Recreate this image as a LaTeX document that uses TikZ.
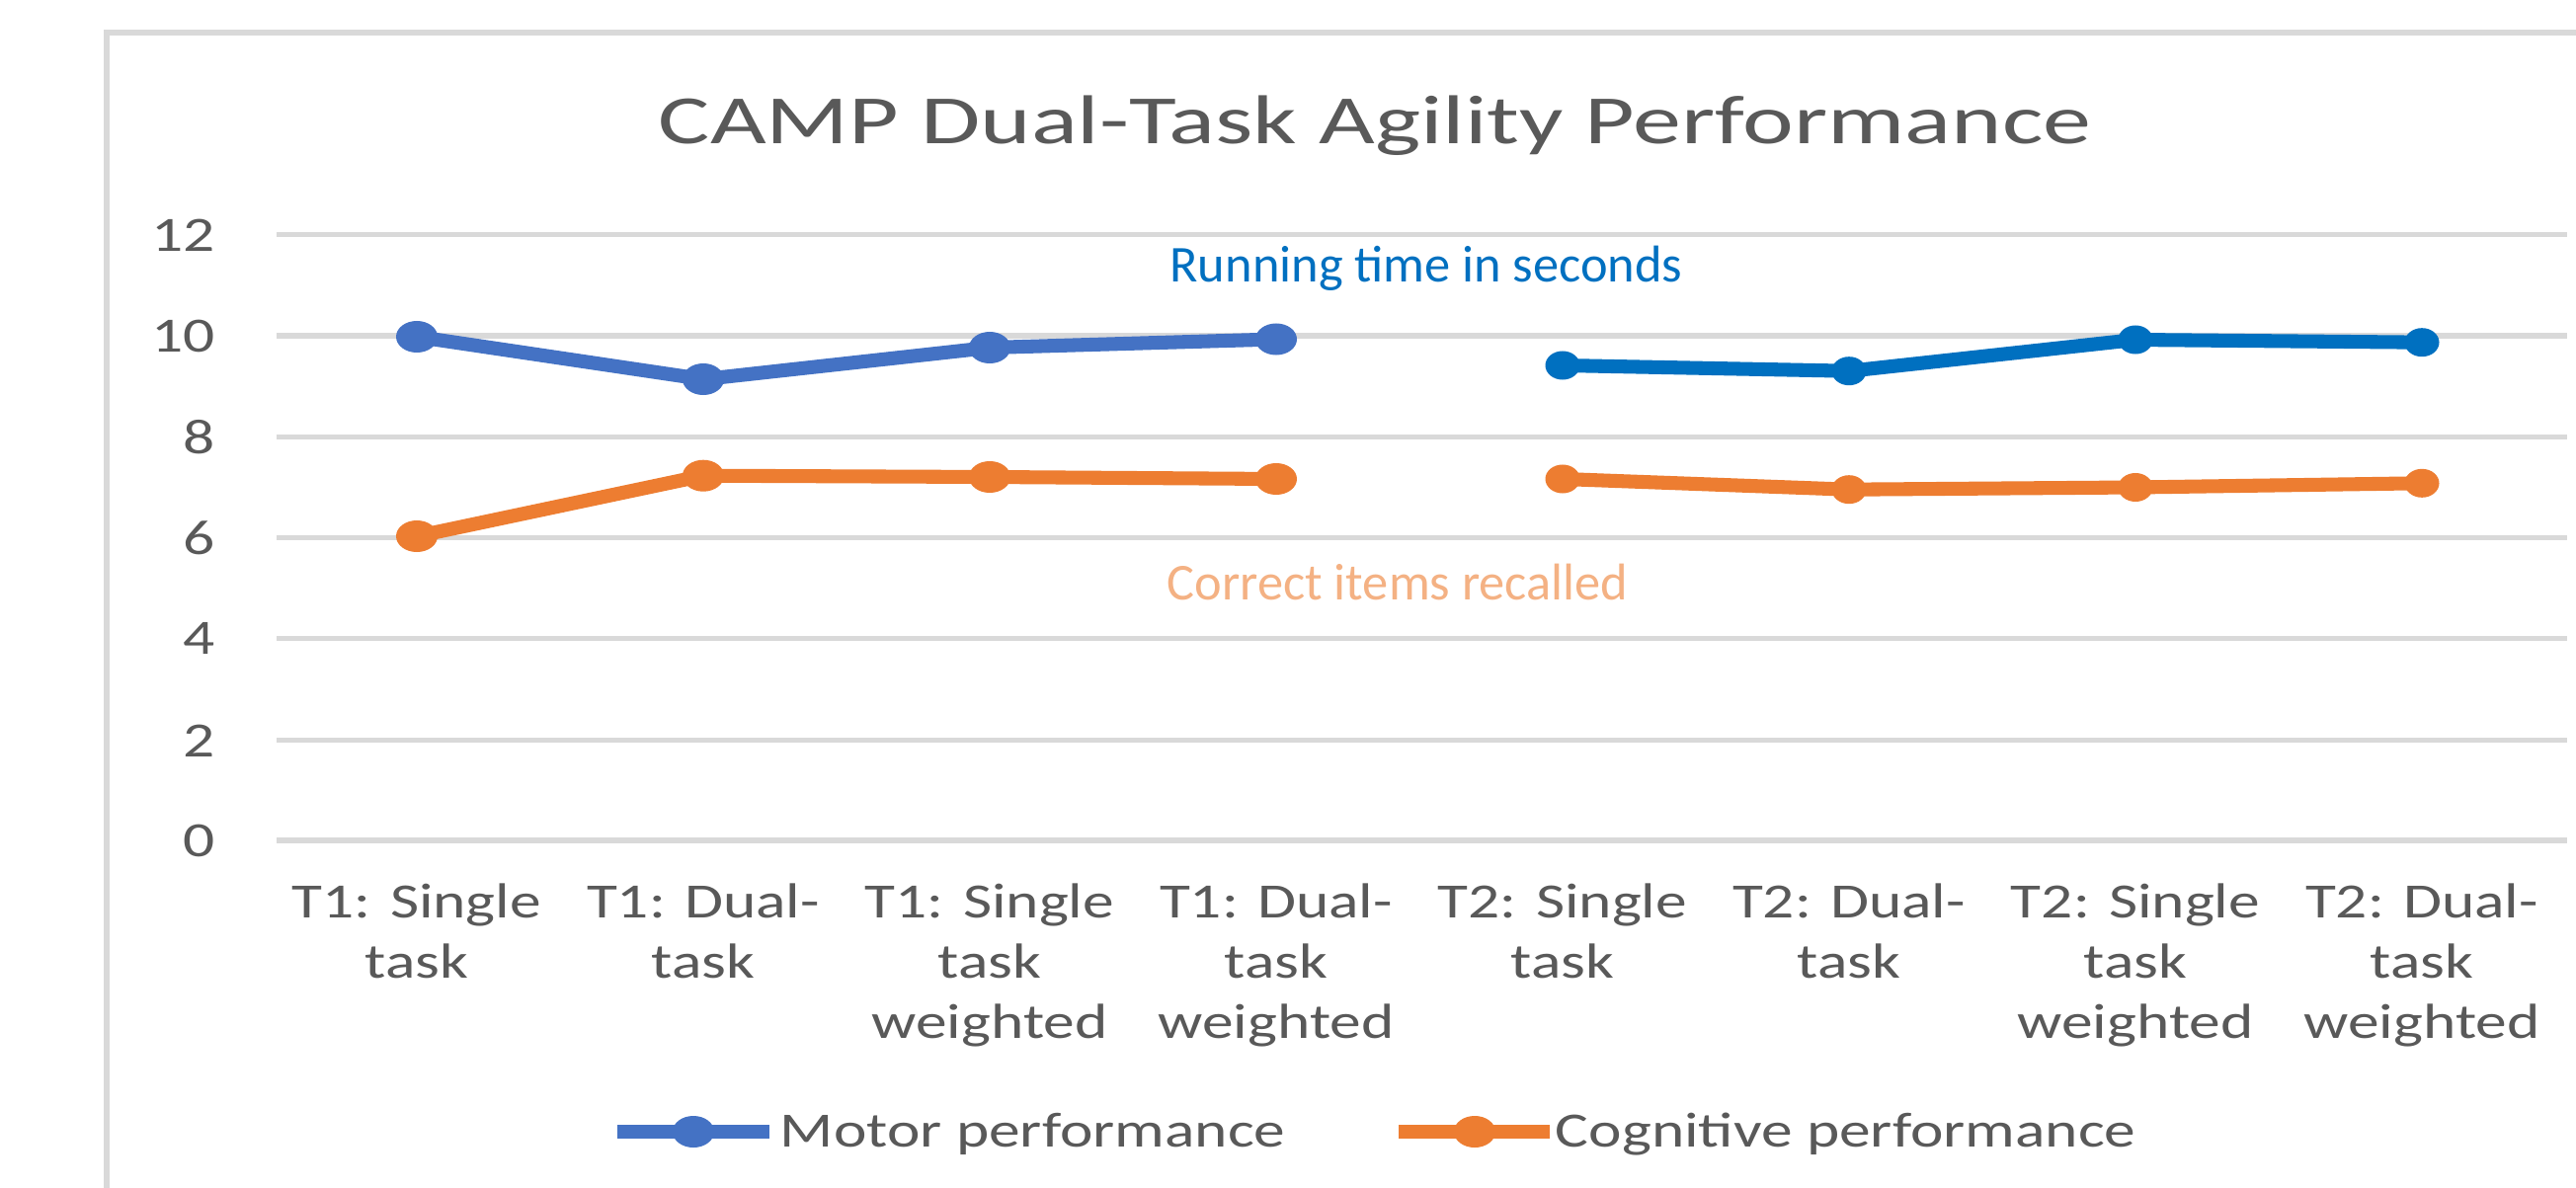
\documentclass[tikz,border=0pt]{standalone}
\usepackage{fontspec}
\setmainfont{Carlito}
\usetikzlibrary{shapes.geometric}
\definecolor{txtgray}{HTML}{595959}
\definecolor{gridgray}{HTML}{D9D9D9}
\definecolor{motorA}{HTML}{4472C4}
\definecolor{motorB}{HTML}{0070C0}
\definecolor{cogn}{HTML}{ED7D31}
\definecolor{cognlight}{HTML}{F4B183}
\begin{document}
\begin{tikzpicture}[x=0.01cm, y=-0.01cm,
  gridline/.style={gridgray, line width=1.45pt},
  frameline/.style={gridgray, line width=1.6pt},
  serie/.style={line width=4pt, line join=round},
  bigdot/.style={ellipse, fill, draw=none, inner sep=0pt, minimum width=0.42cm, minimum height=0.32cm},
  smalldot/.style={ellipse, fill, draw=none, inner sep=0pt, minimum width=0.35cm, minimum height=0.29cm},
  chartfont/.style={font=\fontsize{14.2}{17.4}\selectfont, text=txtgray, inner sep=0pt, xscale=1.27, transform shape},
  ylab/.style={chartfont, anchor=east},
  xlab/.style={chartfont, anchor=north, align=center},
  legtext/.style={chartfont, anchor=base west},
  note/.style={font=\fontsize{14.9}{18}\selectfont, inner sep=0pt, anchor=base}
]
\useasboundingbox (0,0) rectangle (2608,1203);
\fill[white] (0,0) rectangle (2608,1203);

% chart frame (top and left edges)
\coordinate (fTL) at (108,33);
\coordinate (fTR) at (2608,33);
\coordinate (fBL) at (108,1203);
\draw[frameline] (fBL) -- (fTL) -- (fTR);

% title
\node[font=\fontsize{19.9}{24}\selectfont, text=txtgray, inner sep=0pt, anchor=base, xscale=1.40, transform shape] (title) at (1392,145) {CAMP Dual-Task Agility Performance};

% horizontal grid lines and value labels
\foreach \v/\yy in {0/851, 2/749.8, 4/646.6, 6/544.4, 8/442.2, 10/340, 12/237.8} {
  \coordinate (gL\v) at (280,\yy);
  \coordinate (gR\v) at (2599,\yy);
  \draw[gridline] (gL\v) -- (gR\v);
  \node[ylab] (yl\v) at (219,\yy) {\v};
}

% category labels
\node[xlab] (c1) at (422,894) {T1: Single\\task};
\node[xlab] (c2) at (712,894) {T1: Dual-\\task};
\node[xlab] (c3) at (1002,894) {T1: Single\\task\\weighted};
\node[xlab] (c4) at (1292,894) {T1: Dual-\\task\\weighted};
\node[xlab] (c5) at (1582,894) {T2: Single\\task};
\node[xlab] (c6) at (1872,894) {T2: Dual-\\task};
\node[xlab] (c7) at (2162,894) {T2: Single\\task\\weighted};
\node[xlab] (c8) at (2452,894) {T2: Dual-\\task\\weighted};

% data points: motor performance
\coordinate (m1) at (422,341);
\coordinate (m2) at (712,384);
\coordinate (m3) at (1002,352);
\coordinate (m4) at (1292,343.5);
\coordinate (m5) at (1582,370);
\coordinate (m6) at (1872,375.7);
\coordinate (m7) at (2162,344);
\coordinate (m8) at (2452,346.7);
% data points: cognitive performance
\coordinate (k1) at (422,543);
\coordinate (k2) at (712,481.7);
\coordinate (k3) at (1002,483);
\coordinate (k4) at (1292,485);
\coordinate (k5) at (1582,485);
\coordinate (k6) at (1872,495.7);
\coordinate (k7) at (2162,493.5);
\coordinate (k8) at (2452,489.3);

% series lines (no link between T1 and T2)
\draw[serie, motorA] (m1) -- (m2) -- (m3) -- (m4);
\draw[serie, motorB] (m5) -- (m6) -- (m7) -- (m8);
\draw[serie, cogn] (k1) -- (k2) -- (k3) -- (k4);
\draw[serie, cogn] (k5) -- (k6) -- (k7) -- (k8);

% markers
\foreach \i in {1,2,3,4} {
  \node[bigdot, motorA] (M\i) at (m\i) {};
  \node[bigdot, cogn] (K\i) at (k\i) {};
}
\foreach \i in {5,6,7,8} {
  \node[smalldot, motorB] (M\i) at (m\i) {};
  \node[smalldot, cogn] (K\i) at (k\i) {};
}

% annotations
\node[note, text=motorB] (runtime) at (1444,285) {Running time in seconds};
\node[note, text=cognlight] (recall) at (1415,607) {Correct items recalled};

% legend
\coordinate (lA1) at (625,1146);
\coordinate (lA2) at (779,1146);
\draw[motorA, line width=4.2pt] (lA1) -- (lA2);
\node[bigdot, motorA] (lAm) at (702,1146) {};
\node[legtext] (lAt) at (789,1161) {Motor performance};
\coordinate (lB1) at (1416,1146);
\coordinate (lB2) at (1569,1146);
\draw[cogn, line width=4.2pt] (lB1) -- (lB2);
\node[bigdot, cogn] (lBm) at (1493,1146) {};
\node[legtext] (lBt) at (1574,1161) {Cognitive performance};
\end{tikzpicture}
\end{document}
